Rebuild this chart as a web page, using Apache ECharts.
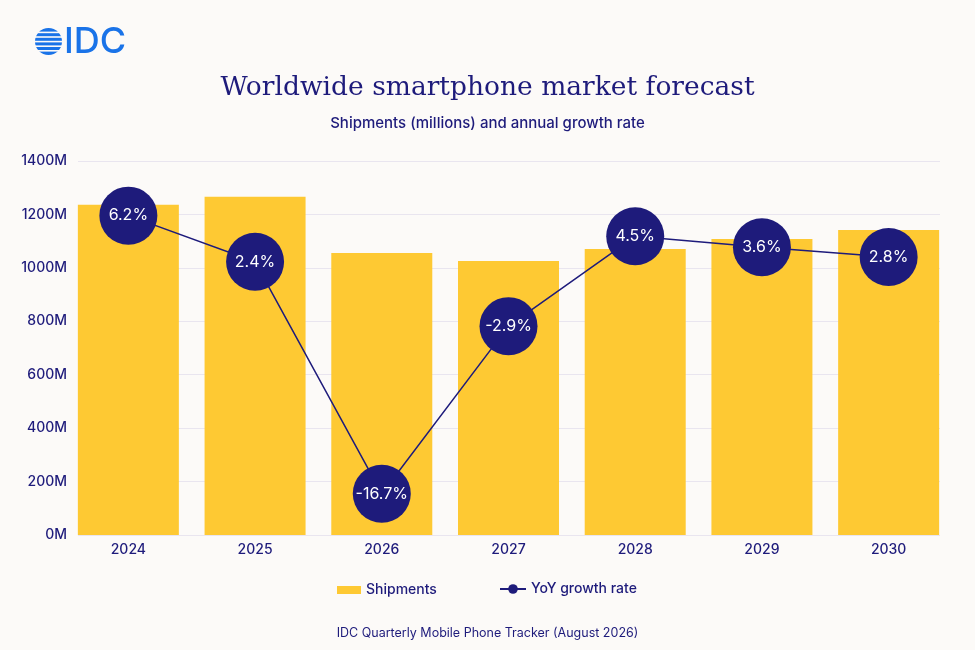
<!DOCTYPE html>
<html>
<head>
<meta charset="utf-8">
<title>Worldwide smartphone market forecast</title>
<script src="https://cdn.jsdelivr.net/npm/echarts@6/dist/echarts.min.js"></script>
<style>
  html, body { margin: 0; padding: 0; background: #fcfaf8; }
  #main { width: 975px; height: 650px; }
</style>
</head>
<body>
<div id="main"></div>
<script>
var years = ['2024', '2025', '2026', '2027', '2028', '2029', '2030'];
var shipments = [1236, 1266, 1056, 1026, 1071, 1108, 1142];
var growth = [6.2, 2.4, -16.7, -2.9, 4.5, 3.6, 2.8];
var yTicks = [0, 200, 400, 600, 800, 1000, 1200, 1400];

var navy = '#1e1b7b';
var yellow = '#fec933';
var bg = '#fcfaf8';
var font = 'Inter';

var chart = echarts.init(document.getElementById('main'));

// globe stripes for the logo
var stripes = [];
for (var i = 0; i < 5; i++) {
    stripes.push({
        type: 'rect',
        shape: { x: 33, y: 31.6 + i * 4.6, width: 32, height: 1.6 },
        style: { fill: bg }
    });
}

var option = {
    backgroundColor: bg,
    title: [{
        text: 'Worldwide smartphone market forecast',
        left: 'center',
        top: 70,
        textStyle: { fontFamily: 'DejaVu Serif', fontSize: 26.5, fontWeight: 'normal', color: navy }
    }, {
        text: 'Shipments (millions) and annual growth rate',
        left: 'center',
        top: 111,
        textStyle: { fontFamily: font, fontSize: 15, fontWeight: 500, color: navy }
    }, {
        text: 'IDC Quarterly Mobile Phone Tracker (August 2026)',
        left: 'center',
        top: 622,
        textStyle: { fontFamily: font, fontSize: 12.5, fontWeight: 'normal', color: navy }
    }],
    graphic: [{
        type: 'circle',
        shape: { cx: 48.5, cy: 41.5, r: 13.5 },
        style: { fill: '#1a73e8' }
    }].concat(stripes).concat([{
        type: 'text',
        left: 64,
        top: 24,
        style: { text: 'IDC', fill: '#1a73e8', font: '500 36px Inter' }
    }]),
    legend: [{
        data: [{ name: 'Shipments', icon: 'rect' }],
        left: 332,
        top: 578,
        itemWidth: 24,
        itemHeight: 8,
        itemGap: 8,
        textStyle: { fontFamily: font, fontSize: 14, fontWeight: 500, color: navy }
    }, {
        data: ['YoY growth rate'],
        left: 494,
        top: 577,
        itemWidth: 26,
        itemHeight: 12,
        itemGap: 6,
        textStyle: { fontFamily: font, fontSize: 14, fontWeight: 500, color: navy }
    }],
    grid: [
        { left: 78, right: 35, top: 161, bottom: 115 },
        { left: 65, right: 23, top: 161, bottom: 115 }
    ],
    xAxis: [{
        type: 'category',
        gridIndex: 0,
        data: years,
        show: false
    }, {
        type: 'category',
        gridIndex: 1,
        data: years,
        axisLine: { show: false },
        axisTick: { show: false },
        axisLabel: { fontFamily: font, fontSize: 14, fontWeight: 500, color: navy, margin: 8 }
    }],
    yAxis: [{
        type: 'value',
        gridIndex: 0,
        min: yTicks[0],
        max: yTicks[yTicks.length - 1],
        interval: 200,
        axisLine: { show: false },
        axisTick: { show: false },
        axisLabel: {
            fontFamily: font, fontSize: 14, fontWeight: 500, color: navy, margin: 11,
            formatter: function (v) { return v + 'M'; }
        },
        splitLine: { lineStyle: { color: '#e9e5ef', width: 1.2 } }
    }, {
        type: 'value',
        gridIndex: 1,
        min: 0,
        max: 1400,
        show: false,
        splitLine: { show: false }
    }, {
        type: 'value',
        gridIndex: 1,
        min: -20.1,
        max: 10.7,
        show: false,
        splitLine: { show: false }
    }],
    series: [{
        name: 'Shipments',
        type: 'bar',
        xAxisIndex: 1,
        yAxisIndex: 1,
        data: shipments,
        barWidth: 101,
        itemStyle: { color: yellow },
        z: 2
    }, {
        name: 'YoY growth rate',
        type: 'line',
        xAxisIndex: 1,
        yAxisIndex: 2,
        data: growth,
        symbol: 'circle',
        symbolSize: 58,
        lineStyle: { color: navy, width: 1.5 },
        itemStyle: { color: navy },
        label: {
            show: true,
            position: 'inside',
            formatter: function (p) { return p.value + '%'; },
            fontFamily: font,
            fontSize: 16,
            fontWeight: 'normal',
            color: '#ffffff'
        },
        z: 3
    }]
};

chart.setOption(option);
window.onresize = chart.resize;
</script>
</body>
</html>
